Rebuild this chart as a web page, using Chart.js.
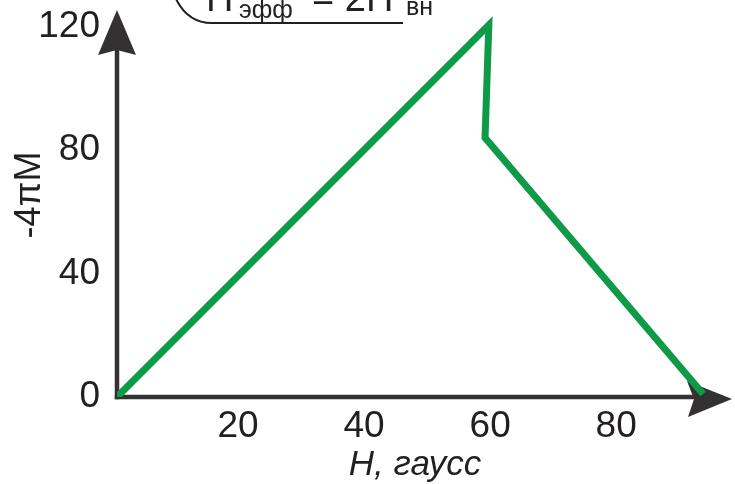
<!DOCTYPE html>
<html>
<head>
<meta charset="utf-8">
<script src="https://cdn.jsdelivr.net/npm/chart.js@4.4.1/dist/chart.umd.min.js"></script>
<style>
  html, body { margin: 0; padding: 0; background: #fff; }
  #wrap { width: 735px; height: 484px; }
</style>
</head>
<body>
<div id="wrap"><canvas id="grafico"></canvas></div>
<script>
// dados
const campoH = [0, 59, 58.4, 93];      // H, gauss
const magnet = [0, 120.5, 84, 1];      // -4πM
const ticksX = [20, 40, 60, 80];
const ticksY = [0, 40, 80, 120];

const corEixo = '#333132';
const corLinha = '#0f9a48';
const fonte = '"Liberation Sans", Arial, sans-serif';

// eixos com setas + textos extras (titulo cortado, rotulos dos eixos)
const eixosPlugin = {
  id: 'eixos',
  beforeDatasetsDraw(chart) {
    const { ctx, chartArea: a } = chart;
    ctx.save();
    ctx.strokeStyle = corEixo;
    ctx.fillStyle = corEixo;
    ctx.lineWidth = 4.5;
    // eixo y
    ctx.beginPath();
    ctx.moveTo(a.left, a.bottom + 2.2);
    ctx.lineTo(a.left, a.top + 40);
    ctx.stroke();
    // eixo x
    ctx.beginPath();
    ctx.moveTo(a.left - 2.2, a.bottom);
    ctx.lineTo(a.right - 20, a.bottom);
    ctx.stroke();
    // seta y
    ctx.beginPath();
    ctx.moveTo(a.left, a.top + 2);
    ctx.lineTo(a.left + 19, a.top + 47);
    ctx.lineTo(a.left, a.top + 42);
    ctx.lineTo(a.left - 19, a.top + 47);
    ctx.closePath();
    ctx.fill();
    // seta x
    ctx.beginPath();
    ctx.moveTo(a.right + 10, a.bottom + 2);
    ctx.lineTo(a.right - 35, a.bottom - 16);
    ctx.lineTo(a.right - 28, a.bottom + 2);
    ctx.lineTo(a.right - 34, a.bottom + 20);
    ctx.closePath();
    ctx.fill();
    ctx.restore();
  },
  afterDraw(chart) {
    const { ctx } = chart;
    ctx.save();
    ctx.fillStyle = '#231f20';
    ctx.strokeStyle = '#231f20';
    ctx.textBaseline = 'alphabetic';
    // titulo (cortado no topo)
    ctx.font = '38px ' + fonte;
    ctx.fillText('H', 206, 11);
    ctx.fillText('= 2H', 312, 11);
    ctx.font = '25px ' + fonte;
    ctx.fillText('эфф', 239, 18);
    ctx.fillText('вн', 406, 15);
    ctx.lineWidth = 2;
    ctx.beginPath();
    ctx.moveTo(176, -1);
    ctx.quadraticCurveTo(188, 23, 212, 23);
    ctx.lineTo(403, 23);
    ctx.stroke();
    // rotulo y
    ctx.save();
    ctx.translate(40, 195);
    ctx.rotate(-Math.PI / 2);
    ctx.textAlign = 'center';
    ctx.font = '36px ' + fonte;
    ctx.fillText('-4πM', 0, 0);
    ctx.restore();
    // rotulo x
    ctx.textAlign = 'center';
    ctx.font = 'italic 35px ' + fonte;
    ctx.fillText('H, гаусс', 415, 475);
    ctx.restore();
  }
};

new Chart('grafico', {
  type: 'line',
  data: {
    datasets: [{
      data: campoH.map((h, i) => ({ x: h, y: magnet[i] })),
      borderColor: corLinha,
      borderWidth: 7,
      borderJoinStyle: 'miter',
      pointRadius: 0,
      tension: 0,
      fill: false
    }]
  },
  options: {
    responsive: true,
    maintainAspectRatio: false,
    animation: false,
    layout: { padding: { top: 8, right: 13, left: 0, bottom: 0 } },
    plugins: { legend: { display: false }, tooltip: { enabled: false } },
    scales: {
      x: {
        type: 'linear',
        min: 0,
        max: 96,
        afterBuildTicks: s => { s.ticks = ticksX.map(v => ({ value: v })); },
        afterFit: s => { s.height = 87; s.paddingLeft = 0; s.paddingRight = 0; },
        grid: { display: false, drawTicks: false },
        border: { display: false },
        ticks: { color: '#231f20', font: { family: fonte, size: 37 }, padding: 8, labelOffset: -5, maxRotation: 0 }
      },
      y: {
        type: 'linear',
        min: 0,
        max: 126,
        afterBuildTicks: s => { s.ticks = ticksY.map(v => ({ value: v })); },
        afterFit: s => { s.width = 117; s.paddingTop = 0; s.paddingBottom = 0; },
        grid: { display: false, drawTicks: false },
        border: { display: false },
        ticks: { color: '#231f20', font: { family: fonte, size: 37 }, padding: 17, labelOffset: 0 }
      }
    }
  },
  plugins: [eixosPlugin]
});
</script>
</body>
</html>
